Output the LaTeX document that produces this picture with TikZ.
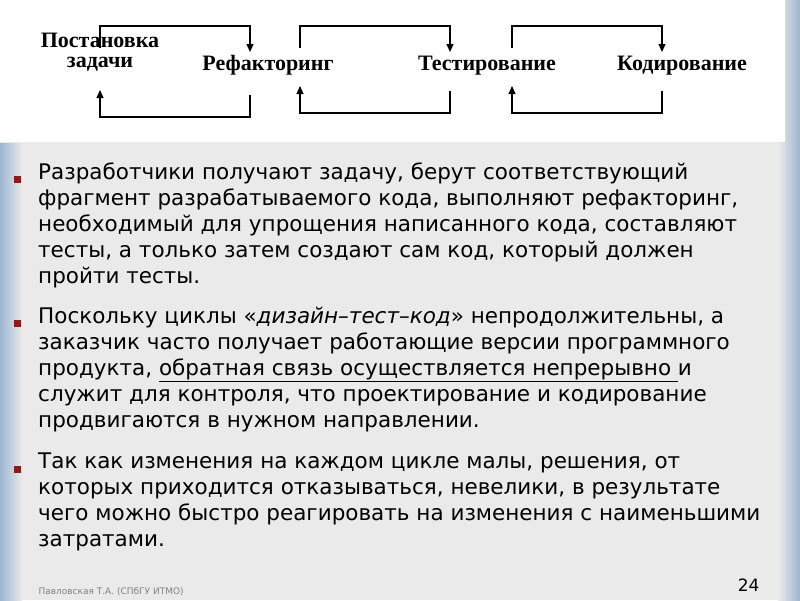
\documentclass[tikz,border=0pt]{standalone}
\usepackage{fontspec}
\setmainfont{DejaVu Sans}
\newfontfamily\tnr{Liberation Serif}
\usetikzlibrary{arrows.meta}
\definecolor{bg}{HTML}{EAEAEA}
\definecolor{edge}{HTML}{9CB4D0}
\definecolor{bul}{HTML}{8B1A1A}
\begin{document}
\begin{tikzpicture}[x=1pt,y=-1pt,
  lbl/.style={font=\tnr\bfseries\fontsize{22}{20}\selectfont,align=center,inner sep=0,anchor=base},
  loop/.style={line width=1.1pt,-{Triangle[length=8pt,width=7pt]}},
  para/.style={anchor=north west,align=left,inner sep=0,font=\fontsize{21.5}{26}\selectfont},
  bullet/.style={fill=bul,minimum size=7pt,inner sep=0}]
\useasboundingbox (0,0) rectangle (800,600);
\fill[bg] (0,0) rectangle (800,600);
\shade[left color=bg,right color=edge] (778,0) rectangle (800,600);
\shade[left color=edge,right color=bg] (0,143) rectangle (22,600);
\fill[white] (0,0) rectangle (785,142);
% diagram
\node[lbl] (p) at (100,67) {Постановка\\задачи};
\node[lbl] (r) at (268,70) {Рефакторинг};
\node[lbl] (t) at (487,70) {Тестирование};
\node[lbl] (k) at (682,70) {Кодирование};
\coordinate (a1) at (100,48); \coordinate (a2) at (250,52);
\draw[loop] (a1) |- (175,26) -| (a2);
\coordinate (b1) at (250,95); \coordinate (b2) at (100,90);
\draw[loop] (b1) |- (175,117) -| (b2);
\coordinate (c1) at (300,48); \coordinate (c2) at (450,52);
\draw[loop] (c1) |- (375,26) -| (c2);
\coordinate (d1) at (450,91); \coordinate (d2) at (300,86);
\draw[loop] (d1) |- (375,113) -| (d2);
\coordinate (e1) at (512,48); \coordinate (e2) at (662,52);
\draw[loop] (e1) |- (587,26) -| (e2);
\coordinate (f1) at (662,91); \coordinate (f2) at (512,86);
\draw[loop] (f1) |- (587,113) -| (f2);
% text
\node[bullet] (s1) at (17,179) {};
\node[para] (t1) at (38,163) {Разработчики получают задачу, берут соответствующий\\фрагмент разрабатываемого кода, выполняют рефакторинг,\\необходимый для упрощения написанного кода, составляют\\тесты, а только затем создают сам код, который должен\\пройти тесты.};
\node[bullet] (s2) at (17,323) {};
\node[para] (t2) at (38,307) {Поскольку циклы «\textit{дизайн–тест–код}» непродолжительны, а\\заказчик часто получает работающие версии программного\\продукта, \underline{обратная связь осуществляется непрерывно }и\\служит для контроля, что проектирование и кодирование\\продвигаются в нужном направлении.};
\node[bullet] (s3) at (17,469) {};
\node[para] (t3) at (38,453) {Так как изменения на каждом цикле малы, решения, от\\которых приходится отказываться, невелики, в результате\\чего можно быстро реагировать на изменения с наименьшими\\затратами.};
\node[anchor=west,text=gray,font=\fontsize{9}{10}\selectfont] (ft) at (35,592) {Павловская Т.А. (СПбГУ ИТМО)};
\node[anchor=east,font=\fontsize{17}{18}\selectfont] (pg) at (763,585) {24};
\end{tikzpicture}
\end{document}
